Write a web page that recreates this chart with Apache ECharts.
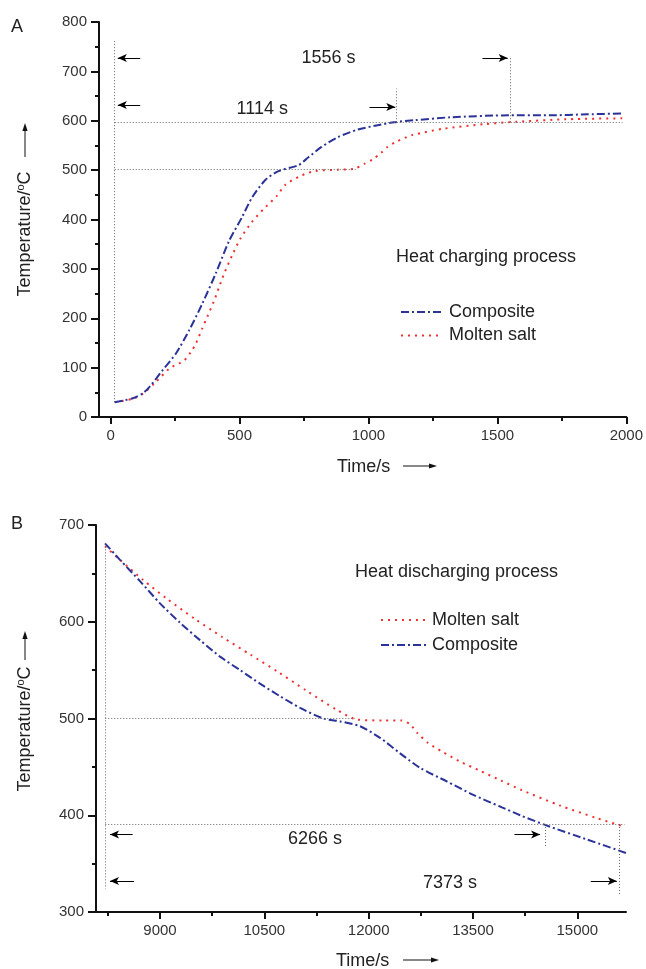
<!DOCTYPE html>
<html><head><meta charset="utf-8">
<script src="https://cdn.jsdelivr.net/npm/echarts@6/dist/echarts.min.js"></script>
<style>html,body{margin:0;padding:0;background:#fff}#c{width:646px;height:969px}</style>
</head><body><div id="c"></div>
<script>
// ---------- data ----------
const chargeComposite = [[16,30],[87,38],[125,48],[151,61],[202,95],[254,129],[305,176],[356,230],[408,291],[459,356],[510,405],[548,444],[600,480],[651,498],[728,510],[767,526],[818,547],[882,567],[958,582],[1036,591],[1100,597],[1177,601],[1318,607],[1548,611],[1700,611],[1850,613],[1990,615]];
const chargeMolten = [[16,30],[87,37],[125,47],[170,68],[228,98],[286,115],[312,132],[331,149],[356,180],[375,203],[401,235],[420,262],[440,290],[472,328],[504,362],[548,395],[593,421],[645,448],[677,470],[735,488],[792,498],[882,501],[946,503],[985,513],[1017,522],[1049,535],[1074,547],[1106,557],[1170,571],[1292,584],[1446,593],[1574,598],[1767,603],[1990,605]];
const dischargeComposite = [[8209,681],[8425,664],[8712,642],[9000,619],[9288,599],[9575,581],[9863,564],[10151,550],[10438,536],[10726,523],[11014,511],[11349,500],[11589,497],[11876,492],[12164,480],[12452,464],[12739,449],[13123,435],[13506,421],[13890,409],[14178,400],[14537,390],[15137,375],[15700,361]];
const dischargeMolten = [[8209,678],[8425,664],[8760,643],[9096,624],[9500,603],[9900,584],[10300,566],[10700,548],[11100,529],[11541,509],[11829,499],[12200,498],[12476,498],[12596,494],[12700,485],[12850,475],[13050,466],[13300,456],[13600,446],[13900,436],[14200,426],[14753,410],[15281,397],[15640,389]];

const chargeTicks = [0,500,1000,1500,2000];
const chargeMinorTicks = [250,750,1250,1750];
const dischargeTicks = [9000,10500,12000,13500,15000];
const dischargeMinorTicks = [8250,9750,11250,12750,14250];

// annotation guides (data coordinates)
const chargeGuides = [[[16,30],[16,765]],[[16,597],[1985,597]],[[16,501],[950,501]],[[1108,597],[1108,665]],[[1548,597],[1548,731]]];
const chargeArrows = [[[115,727],[28,727]],[[115,632],[28,632]],[[1004,628],[1104,628]],[[1442,727],[1540,727]]];
const chargeNotes = [['1556 s',[845,727]],['1114 s',[588,623]]];
const dischargeGuides = [[[8213,681],[8213,324]],[[8213,500],[11800,500]],[[8213,391],[15680,391]],[[14537,391],[14537,367]],[[15602,391],[15602,318]]];
const dischargeArrows = [[[8607,380],[8281,380]],[[8626,332],[8281,332]],[[14096,380],[14465,380]],[[15194,332],[15568,332]]];
const dischargeNotes = [['6266 s',[11229,375]],['7373 s',[13171,330]]];

const chargeLegend = ['Composite','Molten salt'];
const dischargeLegend = ['Molten salt','Composite'];

// ---------- style ----------
const FONT = 'Liberation Sans, Arial, sans-serif';
const BLUE = '#2b3399';
const RED = '#f03030';
const TXT = '#222';
const DASHDOT = [8,3,2,3];
const DOT = [2,5];
const seriesStyle = {'Composite':{color:BLUE, dash:DASHDOT}, 'Molten salt':{color:RED, dash:DOT}};

function markLines(guides, arrows){
  const d = [];
  guides.forEach(g => d.push([{coord:g[0], symbol:'none', lineStyle:{color:'#666', width:1, type:[1,2]}},{coord:g[1], symbol:'none'}]));
  arrows.forEach(a => d.push([{coord:a[0], symbol:'none', lineStyle:{color:'#000', width:1, type:'solid'}},{coord:a[1], symbol:'arrow', symbolSize:[6,9]}]));
  return {silent:true, animation:false, symbol:['none','none'], label:{show:false}, data:d};
}
function markPoints(notes){
  return {silent:true, animation:false, symbol:'circle', symbolSize:1, itemStyle:{color:'rgba(0,0,0,0)'},
    label:{show:true, position:'inside', color:TXT, fontSize:18, fontFamily:FONT},
    data: notes.map(n => ({coord:n[1], value:n[0], label:{formatter:n[0]}}))};
}
const plain = v => String(v);
function xMain(grid, min, max, ticks){
  return {gridIndex:grid, type:'value', min:min, max:max, position:'bottom',
    axisLine:{show:true, onZero:false, lineStyle:{color:'#111', width:2}},
    axisTick:{show:true, customValues:ticks, length:7, lineStyle:{color:'#111', width:2}},
    axisLabel:{customValues:ticks, formatter:plain, fontSize:15, color:'#333', fontFamily:FONT, margin:11},
    splitLine:{show:false}};
}
function xMinor(grid, min, max, ticks){
  return {gridIndex:grid, type:'value', min:min, max:max, position:'bottom', offset:0,
    axisLine:{show:false, onZero:false},
    axisTick:{show:true, customValues:ticks, length:4, lineStyle:{color:'#111', width:2}},
    axisLabel:{show:false}, splitLine:{show:false}};
}
function yAxis(grid, min, max){
  return {gridIndex:grid, type:'value', min:min, max:max, interval:100,
    axisLine:{show:true, onZero:false, lineStyle:{color:'#111', width:2}},
    axisTick:{show:true, length:8, lineStyle:{color:'#111', width:2}},
    minorTick:{show:true, splitNumber:2, length:4, lineStyle:{color:'#111', width:2}},
    axisLabel:{formatter:plain, fontSize:15, color:'#333', fontFamily:FONT, margin:12},
    splitLine:{show:false}};
}
function lineSeries(name, data, xi, yi, extra){
  const s = seriesStyle[name];
  return Object.assign({type:'line', name:name, data:data, xAxisIndex:xi, yAxisIndex:yi,
    smooth:0.25, showSymbol:false, symbol:'none', animation:false, silent:true,
    lineStyle:{color:s.color, width:2, type:s.dash}, itemStyle:{color:s.color}}, extra||{});
}

function arrowGraphic(x1,y1,x2,y2){
  const len = Math.hypot(x2-x1,y2-y1), ux=(x2-x1)/len, uy=(y2-y1)/len;
  const hx = x2-ux*8, hy = y2-uy*8;
  return [
    {type:'line', shape:{x1:x1,y1:y1,x2:hx,y2:hy}, style:{stroke:'#111', lineWidth:1}},
    {type:'polygon', shape:{points:[[x2,y2],[hx-uy*2.6,hy+ux*2.6],[hx+uy*2.6,hy-ux*2.6]]}, style:{fill:'#111'}}
  ];
}
const yTitleRich = {t:{fontSize:18, fontFamily:FONT, color:TXT}, s:{fontSize:11, fontFamily:FONT, color:TXT, verticalAlign:'top', padding:[0,0,8,0]}};
function yTitle(cx, cy){
  return {type:'text', x:cx, y:cy, rotation:Math.PI/2,
    style:{text:'{t|Temperature/}{s|o}{t|C}', rich:yTitleRich, align:'center', verticalAlign:'middle', fill:TXT}};
}
function plainText(x, y, txt, align){
  return {type:'text', x:x, y:y, style:{text:txt, fontSize:18, fontFamily:FONT, fill:TXT, align:align||'left', verticalAlign:'middle'}};
}
function legendGraphic(names, x, y, w, gap){
  const out = [];
  names.forEach((n,i) => {
    const s = seriesStyle[n], yy = y + i*gap;
    out.push({type:'line', shape:{x1:x, y1:yy, x2:x+w, y2:yy}, style:{stroke:s.color, lineWidth:2, lineDash:s.dash}});
    out.push(plainText(x+w+6, yy, n));
  });
  return out;
}

const chart = echarts.init(document.getElementById('c'), null, {renderer:'canvas'});
chart.setOption({
  backgroundColor:'#fff',
  animation:false,
  grid:[{left:99, top:22, width:530, height:395}, {left:96, top:525, width:530, height:387}],
  xAxis:[xMain(0,-45,2000,chargeTicks), xMinor(0,-45,2000,chargeMinorTicks), xMain(1,8080,15700,dischargeTicks), xMinor(1,8080,15700,dischargeMinorTicks)],
  yAxis:[yAxis(0,0,800), yAxis(1,300,700)],
  series:[
    lineSeries('Molten salt', chargeMolten, 0, 0, {markPoint:markPoints(chargeNotes)}),
    lineSeries('Composite', chargeComposite, 0, 0, {markLine:markLines(chargeGuides, chargeArrows)}),
    lineSeries('Molten salt', dischargeMolten, 2, 1, {markPoint:markPoints(dischargeNotes)}),
    lineSeries('Composite', dischargeComposite, 2, 1, {markLine:markLines(dischargeGuides, dischargeArrows)})
  ],
  graphic:[
    plainText(11, 27, 'A'), plainText(11, 524, 'B'),
    plainText(396, 257, 'Heat charging process'),
    plainText(355, 572, 'Heat discharging process'),
    plainText(337, 467, 'Time/s'), plainText(336, 961, 'Time/s'),
    yTitle(25, 234), yTitle(25, 729)
  ].concat(
    legendGraphic(chargeLegend, 401, 312, 42, 23.5),
    legendGraphic(dischargeLegend, 381, 620, 45, 25),
    arrowGraphic(403,466,437,466), arrowGraphic(403,960,439,960), arrowGraphic(25,157,25,123), arrowGraphic(25,660,25,631))
});
</script></body></html>
